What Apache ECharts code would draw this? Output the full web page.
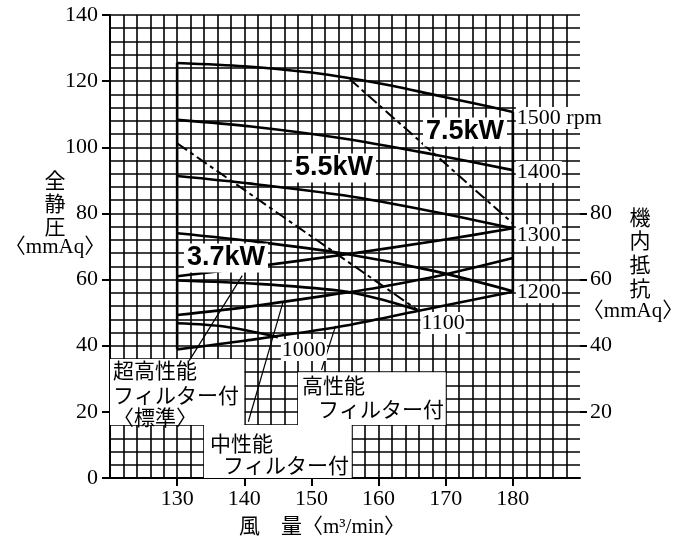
<!DOCTYPE html>
<html>
<head>
<meta charset="utf-8">
<script src="https://cdn.jsdelivr.net/npm/echarts@6/dist/echarts.min.js"></script>
<style>html,body{margin:0;padding:0;background:#fff}#chart{width:683px;height:545px}</style>
</head>
<body>
<div id="chart"></div>
<script>
// fan curves: 風量 [m3/min] -> 全静圧 [mmAq]
var rpm1500 = [[130, 125.5], [140, 124.5], [150, 122.6], [156, 120.8], [162, 118.6], [168, 116], [174, 113.4], [180, 110.7]];
var rpm1400 = [[130, 108.3], [141, 106.3], [155, 102.6], [168, 97.9], [180, 93.1]];
var rpm1300 = [[130, 91.3], [141, 89], [155, 85.4], [168, 80.6], [180, 75.5]];
var rpm1200 = [[130, 74], [142, 71.4], [155, 67.8], [168, 62.7], [180, 56.5]];
var rpm1100 = [[130, 59.7], [142, 58.7], [154.3, 56.6], [160, 54.2], [165.8, 50.8]];
var rpm1000 = [[130, 46.8], [137, 45.8], [145, 42.6]];
var fanCurves = [rpm1500, rpm1400, rpm1300, rpm1200, rpm1100, rpm1000];
var rpmLabels = ['1500 rpm', '1400', '1300', '1200', '1100', '1000'];

// 機内抵抗 curves (filters)
var filterUltra = [[130, 61], [140, 63.5], [155, 67.6], [169, 71.8], [180, 75.5]];
var filterMid = [[130, 49.3], [140, 51.6], [155, 56], [160, 57.6], [170, 61.6], [180, 66.5]];
var filterLow = [[130, 38.9], [140, 41.5], [154.3, 45.8], [166, 50.6], [180, 56.3]];

// motor power limits
var kw55 = [[130, 101.2], [165.8, 50.8]];
var kw75 = [[155.7, 120.6], [180, 77]];

// edges of the operating range
var edge130 = [[130, 125.5], [130, 38.9]];
var edge180 = [[180, 110.7], [180, 56.3]];

// leader lines from the filter labels
var leadUltra = [[131.8, 35.5], [139.7, 61.2]];
var leadMid = [[140.6, 17], [145.8, 53.4]];
var leadHigh = [[151.5, 32.7], [153.6, 46]];

var xTicks = [130, 140, 150, 160, 170, 180];
var rightTicks = [20, 40, 60, 80];

var SERIF = '"Liberation Serif", "Noto Sans CJK JP"';
var CJK = '"Noto Sans CJK JP", "Liberation Serif"';
var rpmOffsets = [[0, 6], [0, 2], [0, 7], [0, 1], [0, 13], [0, 13]];

var chart = echarts.init(document.getElementById('chart'));

function line(data, width, type, z) {
    return {
        type: 'line', data: data, symbol: 'none', silent: true, z: z || 3,
        lineStyle: { color: '#000', width: width, type: type || 'solid' }
    };
}

var series = [];
// white boxes behind labels
series.push({
    type: 'line', data: [], silent: true,
    markArea: {
        silent: true,
        itemStyle: { color: '#fff', opacity: 1 },
        data: [
            [{ coord: [120, 16] }, { coord: [140, 36] }],
            [{ coord: [134, 0] }, { coord: [156, 16] }],
            [{ coord: [148, 16] }, { coord: [170, 32] }]
        ]
    }
});
fanCurves.forEach(function (d, i) {
    var s = line(d, 2.6);
    s.smooth = 0.3;
    s.endLabel = {
        show: true, formatter: rpmLabels[i], distance: 3, offset: rpmOffsets[i],
        color: '#000', fontFamily: SERIF, fontSize: 22,
        backgroundColor: '#fff', padding: [0, 1]
    };
    series.push(s);
});
[filterUltra, filterMid, filterLow].forEach(function (d) {
    var s = line(d, 2.6);
    s.smooth = 0.3;
    series.push(s);
});
series.push(line(kw55, 2, [12, 4, 4, 4]));
series.push(line(kw75, 2, [12, 4, 4, 4]));
series.push(line(edge130, 2.6));
series.push(line(edge180, 2.6));
series.push(line(leadUltra, 1.2));
series.push(line(leadMid, 1.2));
series.push(line(leadHigh, 1.2));

var gridLine = { show: true, lineStyle: { color: '#000', width: 1.6 } };

function txt(x, y, text, font, extra) {
    var st = { text: text, fill: '#000', font: font, align: 'center', verticalAlign: 'middle' };
    for (var k in (extra || {})) st[k] = extra[k];
    return { type: 'text', x: x, y: y, z: 100, style: st };
}

var option = {
    animation: false,
    backgroundColor: '#fff',
    grid: { left: 110, right: 103, top: 15, bottom: 67, outerBoundsMode: 'none' },
    xAxis: {
        type: 'value', min: 120, max: 190, interval: 10,
        axisLine: { show: true, onZero: false, lineStyle: { color: '#000', width: 2 } },
        axisTick: { show: true, customValues: xTicks, length: 8, lineStyle: { color: '#000', width: 2 } },
        axisLabel: {
            customValues: xTicks, margin: 10, color: '#000', fontFamily: SERIF, fontSize: 22,
            formatter: function (v) { return (v >= 130 && v <= 180) ? v : ''; }
        },
        splitLine: gridLine,
        minorTick: { show: false, splitNumber: 5 },
        minorSplitLine: gridLine
    },
    yAxis: [{
        type: 'value', min: 0, max: 140, interval: 20, position: 'left',
        axisLine: { show: true, lineStyle: { color: '#000', width: 2 } },
        axisTick: { show: true, length: 8, lineStyle: { color: '#000', width: 2 } },
        axisLabel: { margin: 12, color: '#000', fontFamily: SERIF, fontSize: 22 },
        splitLine: gridLine,
        minorTick: { show: false, splitNumber: 5 },
        minorSplitLine: gridLine
    }, {
        type: 'value', min: 0, max: 140, interval: 20, position: 'right',
        axisLine: { show: false },
        axisTick: { show: true, customValues: rightTicks, length: 7, lineStyle: { color: '#000', width: 2 } },
        axisLabel: { customValues: rightTicks, margin: 10, color: '#000', fontFamily: SERIF, fontSize: 22 },
        splitLine: { show: false }
    }],
    graphic: [
        txt(55, 180, '全', '21px ' + CJK),
        txt(55, 203, '静', '21px ' + CJK),
        txt(55, 226, '圧', '21px ' + CJK),
        txt(55, 247, '〈mmAq〉', '21px ' + SERIF),
        txt(640, 217, '機', '21px ' + CJK),
        txt(640, 240, '内', '21px ' + CJK),
        txt(640, 264, '抵', '21px ' + CJK),
        txt(640, 288, '抗', '21px ' + CJK),
        txt(633, 311, '〈mmAq〉', '21px ' + SERIF),
        txt(322, 527, '風　量〈m³/min〉', '21px ' + SERIF),
        txt(465, 132, '7.5kW', 'bold 27px "Liberation Sans"', { backgroundColor: '#fff', padding: [1, 3] }),
        txt(334, 168, '5.5kW', 'bold 27px "Liberation Sans"', { backgroundColor: '#fff', padding: [1, 3] }),
        txt(226, 258, '3.7kW', 'bold 27px "Liberation Sans"', { backgroundColor: '#fff', padding: [1, 3] }),
        txt(113, 370, '超高性能', '21px ' + CJK, { align: 'left' }),
        txt(113, 395, 'フィルター付', '21px ' + CJK, { align: 'left' }),
        txt(113, 417, '〈標準〉', '21px ' + CJK, { align: 'left' }),
        txt(210, 443, '中性能', '21px ' + CJK, { align: 'left' }),
        txt(223, 465, 'フィルター付', '21px ' + CJK, { align: 'left' }),
        txt(302, 385, '高性能', '21px ' + CJK, { align: 'left' }),
        txt(318, 409, 'フィルター付', '21px ' + CJK, { align: 'left' })
    ],
    series: series
};

chart.setOption(option);
</script>
</body>
</html>
